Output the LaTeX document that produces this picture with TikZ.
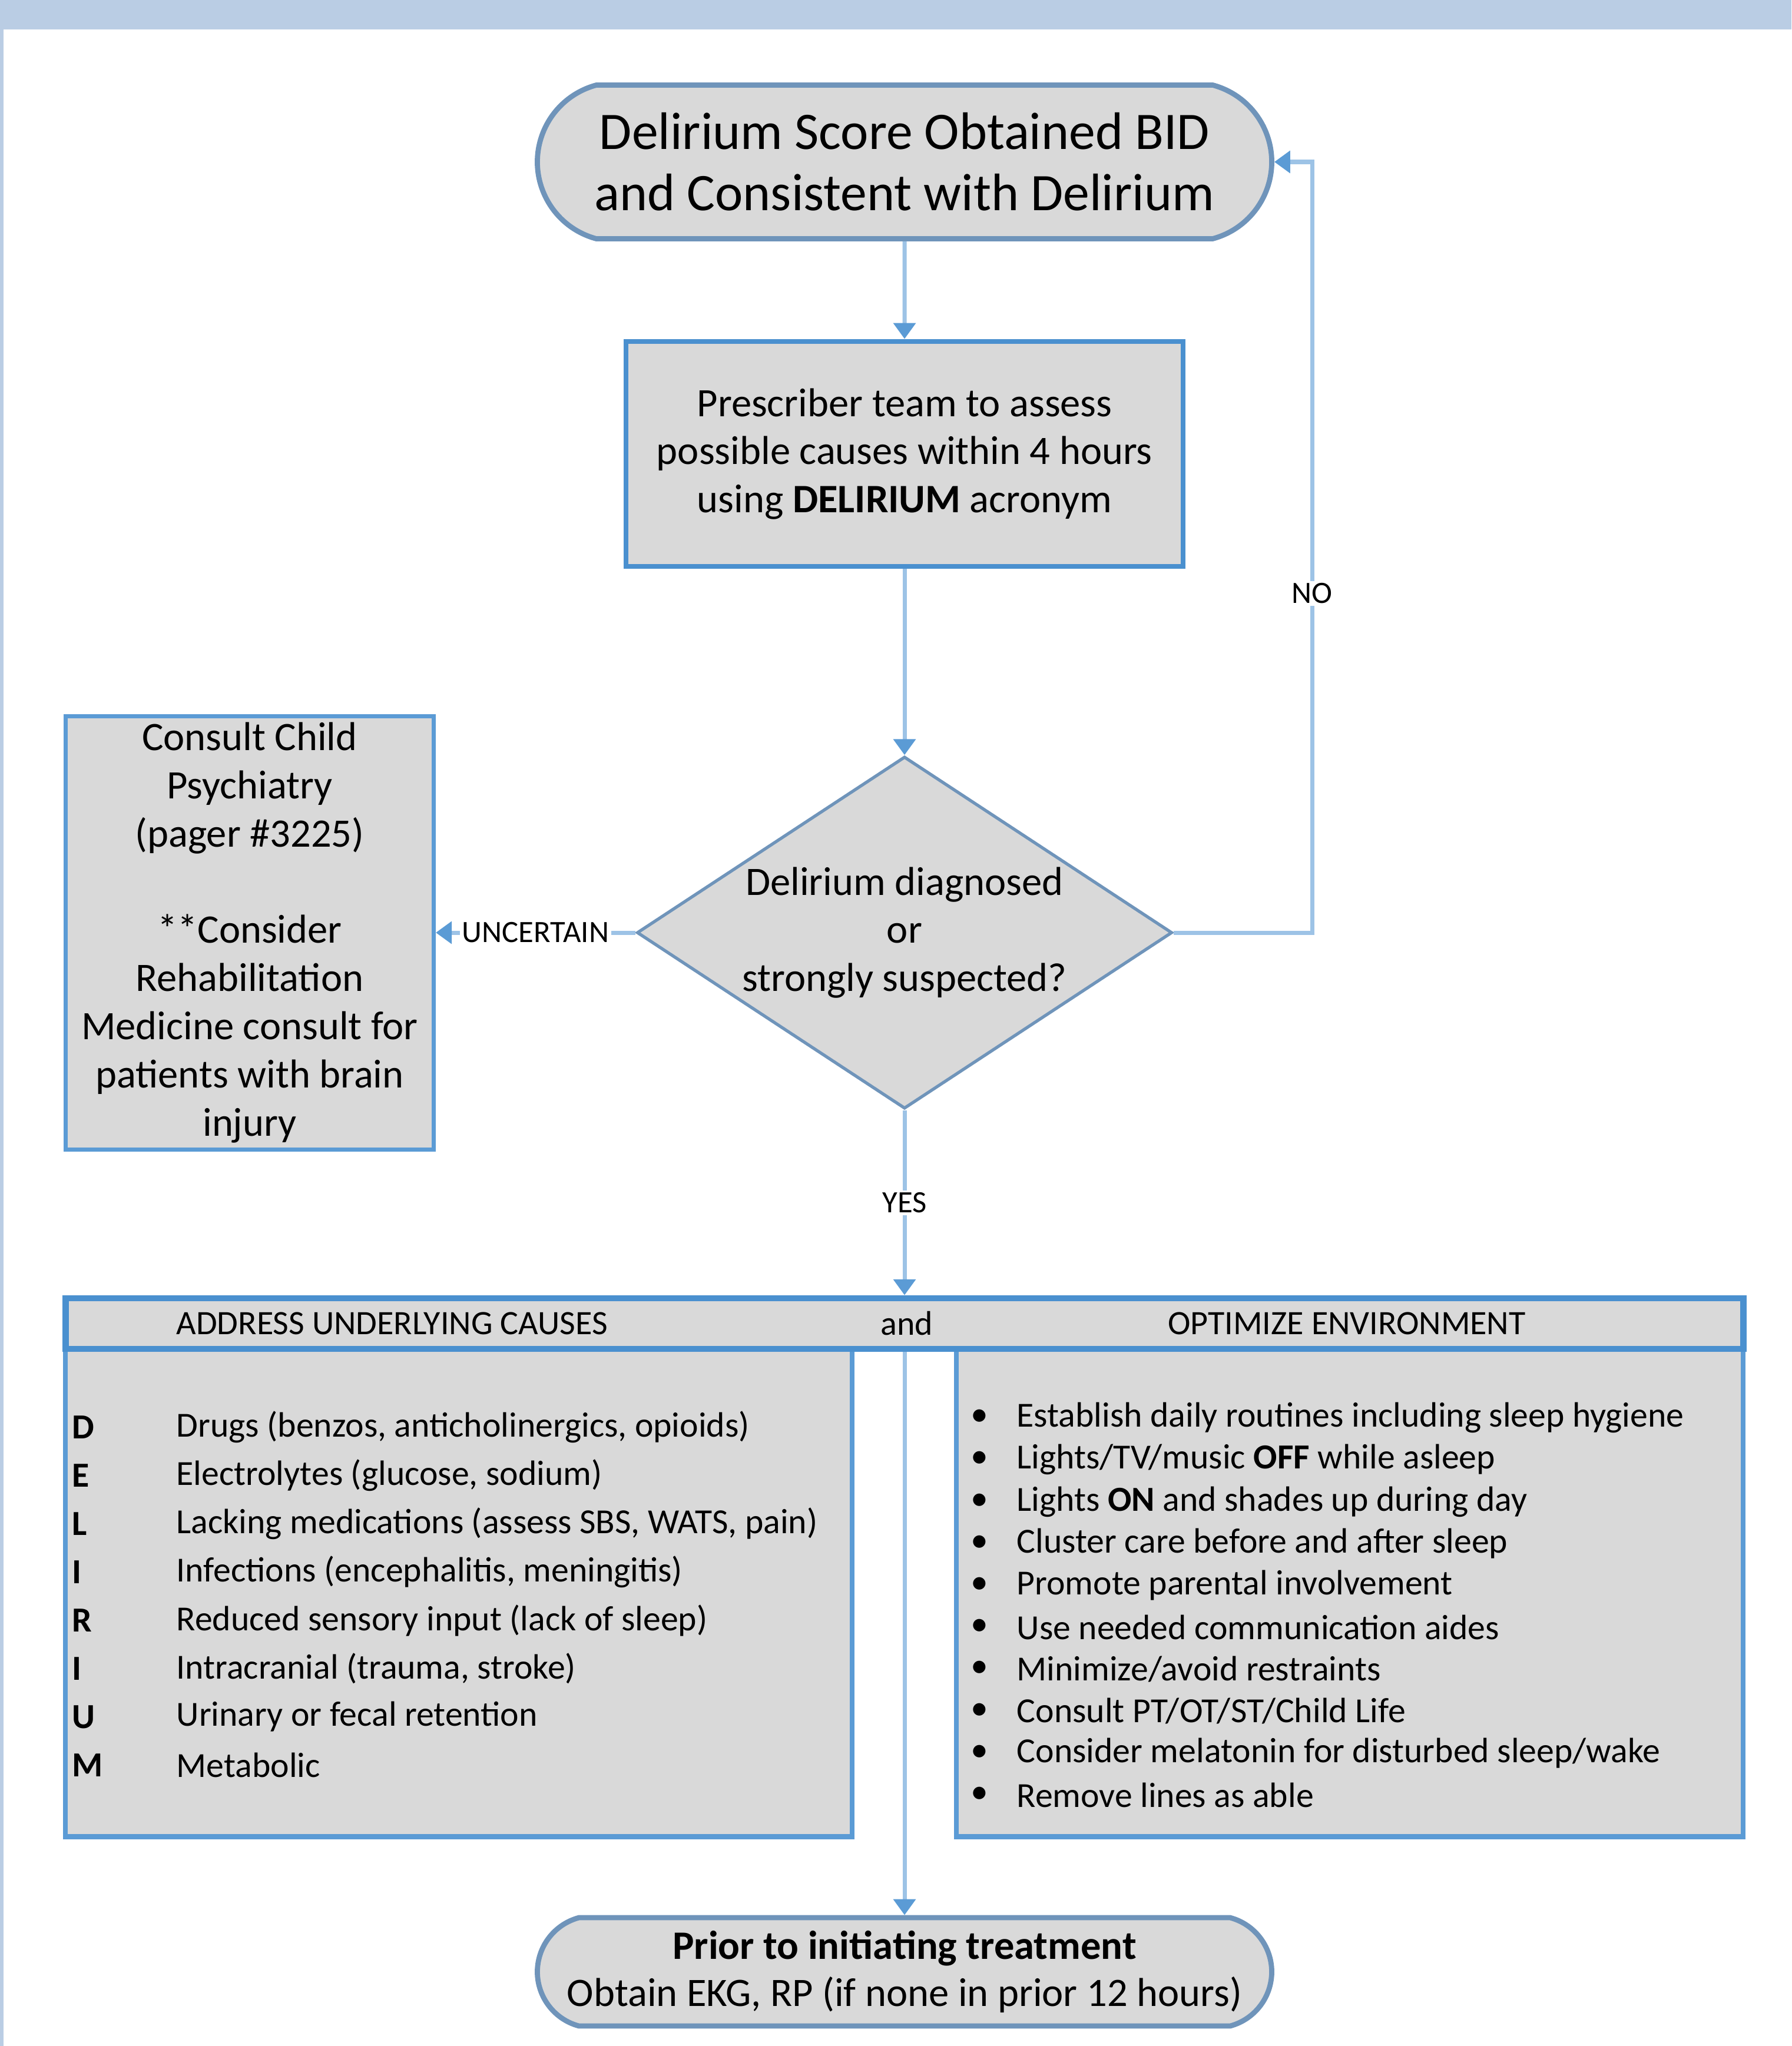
\documentclass[tikz,border=0pt]{standalone}
\usepackage{fontspec}
\setmainfont{Carlito}
\usetikzlibrary{shapes.misc,shapes.geometric,arrows.meta,positioning,calc}

\definecolor{bandblue}{HTML}{BACDE4}
\definecolor{boxgray}{HTML}{D9D9D9}
\definecolor{edgeblue}{HTML}{4A90CF}
\definecolor{termblue}{HTML}{6F94BA}
\definecolor{linkblue}{HTML}{9DC3E6}
\definecolor{tipblue}{HTML}{5B9BD5}

\begin{document}
\begin{tikzpicture}[on grid,
    terminal/.style={rounded rectangle, rounded rectangle arc length=150, draw=termblue, line width=2.5pt, fill=boxgray, minimum width=12.47cm, align=center, inner sep=0pt},
    procbox/.style={rectangle, draw=edgeblue, line width=2.5pt, fill=boxgray, align=center, inner sep=0pt},
    decision/.style={diamond, draw=termblue, line width=1.5pt, fill=boxgray, aspect=1.52, inner sep=0pt, minimum width=9.09cm, minimum height=5.98cm, align=center},
    link/.style={draw=linkblue, line width=2pt, -{Triangle[color=tipblue,width=0.37cm,length=0.27cm]}},
    lbl/.style={fill=white, inner sep=1pt, font=\fontsize{15}{18}\selectfont},
    midtext/.style={font=\fontsize{19.5}{23.3}\selectfont},
    listitem/.style={anchor=west, inner sep=0pt, font=\fontsize{17}{20}\selectfont}
  ]
   % frame of the page
   \useasboundingbox (0,0) rectangle (30.42,-34.75);
   \fill[bandblue] (0,0) rectangle (30.42,-0.50);
   \fill[bandblue] (0,0) rectangle (0.06,-34.75);

   % main column
   \node[terminal, minimum height=2.61cm, font=\fontsize{25.5}{29.6}\selectfont] (start) at (15.36,-2.75)
      {Delirium Score Obtained BID\\and Consistent with Delirium};
   \node[procbox, midtext, minimum width=9.46cm, minimum height=3.82cm] (assess) [below=4.96cm of start]
      {Prescriber team to assess\\possible causes within 4 hours\\using \textbf{DELIRIUM} acronym};
   \node[decision, midtext] (diag) [below=8.13cm of assess]
      {Delirium diagnosed\\or\\strongly suspected?};
   \node[procbox, midtext, draw=tipblue, line width=2pt, minimum width=6.25cm, minimum height=7.36cm] (consult) [left=11.12cm of diag]
      {Consult Child\\Psychiatry\\(pager \#3225)\\[23.3pt]**Consider\\Rehabilitation\\Medicine consult for\\patients with brain\\injury};

   % lower part
   \node[procbox, draw=tipblue, minimum width=13.36cm, minimum height=8.29cm] (causes) at (7.79,-27.05) {};
   \node[procbox, draw=tipblue, minimum width=13.36cm, minimum height=8.29cm] (environ) at (22.92,-27.05) {};
   \node[procbox, line width=3pt, draw=edgeblue, minimum width=28.49cm, minimum height=0.86cm] (header) [below=6.64cm of diag] {};
   \node[listitem, font=\fontsize{16.5}{20}\selectfont] (hdrleft) at (2.99,-22.48) {ADDRESS UNDERLYING CAUSES};
   \node[font=\fontsize{16.5}{20}\selectfont, inner sep=0pt] (hdrand) at (15.40,-22.48) {and};
   \node[font=\fontsize{16.5}{20}\selectfont, inner sep=0pt] (hdrright) at (22.87,-22.48) {OPTIMIZE ENVIRONMENT};

   \node[terminal, minimum height=1.84cm, font=\fontsize{19.5}{22.7}\selectfont] (finish) [below=11.01cm of header]
      {\textbf{Prior to initiating treatment}\\Obtain EKG, RP (if none in prior 12 hours)};

   % DELIRIUM acronym
   \foreach \ltr/\txt [count=\i from 0] in {
      {D/Drugs (benzos, anticholinergics, opioids)},
      {E/Electrolytes (glucose, sodium)},
      {L/Lacking medications (assess SBS, WATS, pain)},
      {I/Infections (encephalitis, meningitis)},
      {R/Reduced sensory input (lack of sleep)},
      {I/Intracranial (trauma, stroke)},
      {U/Urinary or fecal retention},
      {M/Metabolic}} {
      \node[listitem, font=\fontsize{17}{20}\selectfont\bfseries] (ltr\i) at (1.22,{-24.24-0.82*\i}) {\ltr};
      \node[listitem] (cause\i) at (2.99,{-24.24-0.82*\i}) {\txt};
   }

   % environment list
   \foreach \txt [count=\i from 0] in {
      {Establish daily routines including sleep hygiene},
      {Lights/TV/music \textbf{OFF} while asleep},
      {Lights \textbf{ON} and shades up during day},
      {Cluster care before and after sleep},
      {Promote parental involvement},
      {Use needed communication aides},
      {Minimize/avoid restraints},
      {Consult PT/OT/ST/Child Life},
      {Consider melatonin for disturbed sleep/wake},
      {Remove lines as able}} {
      \node[listitem] (dot\i) at (16.48,{-24.08-0.712*\i}) {\textbullet};
      \node[listitem] (env\i) at (17.26,{-24.08-0.712*\i}) {\txt};
   }

   % connectors
   \coordinate[right=2.35cm of diag.east] (noturn);
   \path[link] (start) -- (assess);
   \path[link] (assess) -- (diag);
   \draw[link] (diag.east) -- (noturn) |- node[lbl, pos=0.22] {NO} (start.east);
   \draw[link] (diag.west) -- node[lbl] {UNCERTAIN} (consult.east);
   \draw[link] (diag.south) -- node[lbl] {YES} (header.north);
   \draw[link] (header.south) -- (finish.north);
\end{tikzpicture}
\end{document}
